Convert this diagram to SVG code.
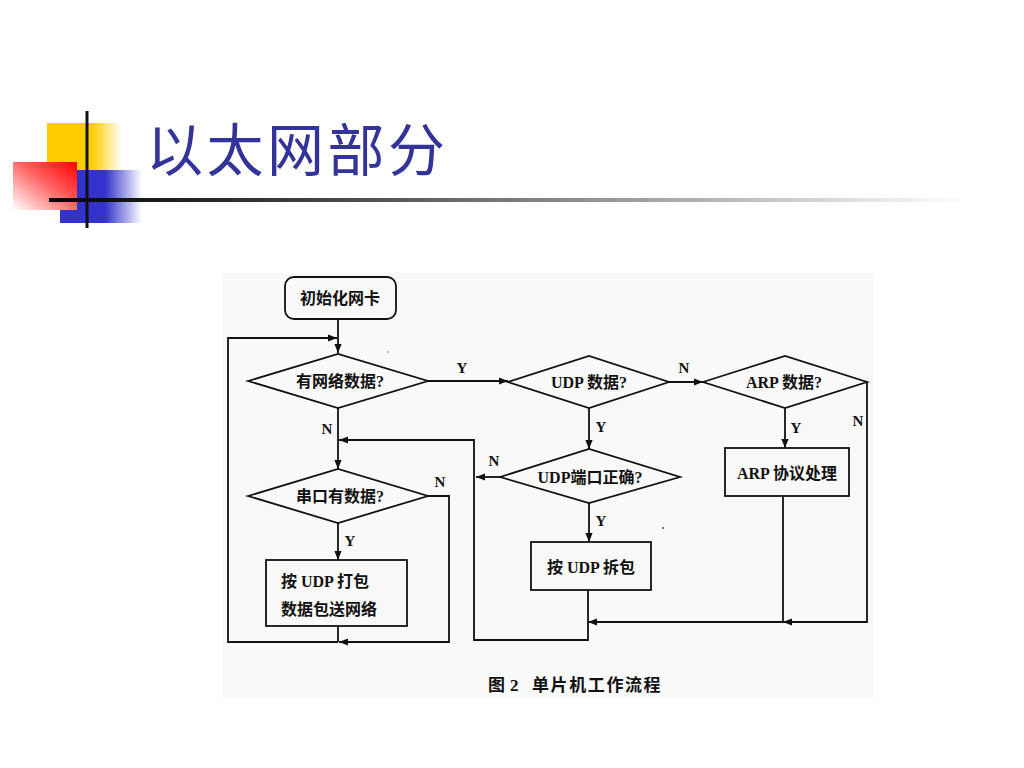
<svg xmlns="http://www.w3.org/2000/svg" width="1024" height="768" viewBox="0 0 1024 768">
<defs>
<linearGradient id="gy" x1="0" y1="0" x2="1" y2="0">
<stop offset="0" stop-color="#ffcc00"/><stop offset="0.6" stop-color="#ffcc00"/><stop offset="1" stop-color="#ffffff"/>
</linearGradient>
<linearGradient id="gb" x1="0" y1="0" x2="1" y2="0">
<stop offset="0" stop-color="#3333cc"/><stop offset="0.55" stop-color="#3333cc"/><stop offset="1" stop-color="#ffffff"/>
</linearGradient>
<linearGradient id="gr" x1="1" y1="0" x2="0" y2="1">
<stop offset="0" stop-color="#ff0000"/><stop offset="0.45" stop-color="#ff6060"/><stop offset="1" stop-color="#ffffff"/>
</linearGradient>
<linearGradient id="gl" x1="0" y1="0" x2="1" y2="0">
<stop offset="0" stop-color="#000000"/><stop offset="0.3" stop-color="#444444"/><stop offset="1" stop-color="#ffffff"/>
</linearGradient>
<marker id="ah" viewBox="0 0 10 10" refX="10" refY="5" markerWidth="9" markerHeight="9" markerUnits="userSpaceOnUse" orient="auto">
<path d="M0,1 L10,5 L0,9 Z" fill="#111"/>
</marker>
<style>
.sh{fill:none;stroke:#111;stroke-width:1.8;stroke-linejoin:miter}
.cn{fill:none;stroke:#111;stroke-width:1.8}
.tx{font-family:"Liberation Serif","Noto Sans CJK SC",serif;font-size:16px;font-weight:bold;fill:#111}
.lb{font-family:"Liberation Serif",serif;font-size:15px;font-weight:bold;fill:#111}
</style>
</defs>
<rect width="1024" height="768" fill="#ffffff"/>
<!-- title decoration -->
<g id="title-decor">
<rect x="47" y="123" width="75" height="48" fill="url(#gy)"/>
<rect x="60" y="170" width="82" height="53" fill="url(#gb)"/>
<rect x="13" y="162" width="64" height="48" fill="url(#gr)"/>
<line x1="87" y1="111" x2="87" y2="228" stroke="#111" stroke-width="3"/>
<rect x="49" y="198" width="915" height="4" fill="url(#gl)"/>
</g>
<text id="title" x="146" y="171" font-family="Noto Sans CJK SC, sans-serif" font-size="57" letter-spacing="3.5" fill="#333399">以太网部分</text>
<!-- figure background -->
<rect x="222" y="273" width="652" height="425" fill="#f9f9f9"/>
<circle cx="388" cy="352" r="0.8" fill="#777"/>
<circle cx="663" cy="528" r="1" fill="#555"/>
<g id="connectors">
<path class="cn" d="M338 319 V353" marker-end="url(#ah)"/>
<path class="cn" d="M428 381 H508" marker-end="url(#ah)"/>
<path class="cn" d="M669 382 H703" marker-end="url(#ah)"/>
<path class="cn" d="M785 408 V448" marker-end="url(#ah)"/>
<path class="cn" d="M589 408 V449" marker-end="url(#ah)"/>
<path class="cn" d="M589 503 V542" marker-end="url(#ah)"/>
<path class="cn" d="M338 408 V469" marker-end="url(#ah)"/>
<path class="cn" d="M338 523 V560" marker-end="url(#ah)"/>
<path class="cn" d="M500 477 H476" marker-end="url(#ah)"/>
<path class="cn" d="M867 382 V622 H783" marker-end="url(#ah)"/>
<path class="cn" d="M783 496 V622 H588" marker-end="url(#ah)"/>
<path class="cn" d="M588 590 V640 H474 V440 H339" marker-end="url(#ah)"/>
<path class="cn" d="M428 496 H449 V642 H339" marker-end="url(#ah)"/>
<path class="cn" d="M338 626 V642"/>
<path class="cn" d="M338 642 H228 V338 H337" marker-end="url(#ah)"/>
</g>
<g id="start">
<rect class="sh" x="285" y="277" width="111" height="42" rx="9"/>
<text class="tx" x="340" y="304" text-anchor="middle">初始化网卡</text>
</g>
<g id="net-data">
<path class="sh" d="M248 381 L338 354 L428 381 L338 408 Z"/>
<text class="tx" x="340" y="387" text-anchor="middle">有网络数据?</text>
</g>
<g id="udp-data">
<path class="sh" d="M508 382 L589 356 L669 382 L589 408 Z"/>
<text class="tx" x="589" y="388" text-anchor="middle">UDP 数据?</text>
</g>
<g id="arp-data">
<path class="sh" d="M703 382 L785 356 L867 382 L785 408 Z"/>
<text class="tx" x="784" y="388" text-anchor="middle">ARP 数据?</text>
</g>
<g id="arp-proc">
<rect class="sh" x="725" y="448" width="124" height="48"/>
<text class="tx" x="787" y="479" text-anchor="middle">ARP 协议处理</text>
</g>
<g id="udp-port">
<path class="sh" d="M500 477 L589 449 L680 477 L589 503 Z"/>
<text class="tx" x="590" y="483" text-anchor="middle">UDP端口正确?</text>
</g>
<g id="udp-unpack">
<rect class="sh" x="531" y="542" width="120" height="48"/>
<text class="tx" x="591" y="573" text-anchor="middle">按 UDP 拆包</text>
</g>
<g id="serial-data">
<path class="sh" d="M248 496 L338 469 L428 496 L338 523 Z"/>
<text class="tx" x="340" y="502" text-anchor="middle">串口有数据?</text>
</g>
<g id="udp-pack">
<rect class="sh" x="266" y="560" width="141" height="66"/>
<text class="tx" x="281" y="587">按 UDP 打包</text>
<text class="tx" x="281" y="615">数据包送网络</text>
</g>
<g id="labels">
<text class="lb" x="462" y="373" text-anchor="middle">Y</text>
<text class="lb" x="684" y="373" text-anchor="middle">N</text>
<text class="lb" x="327" y="434" text-anchor="middle">N</text>
<text class="lb" x="601" y="432" text-anchor="middle">Y</text>
<text class="lb" x="796" y="433" text-anchor="middle">Y</text>
<text class="lb" x="858" y="426" text-anchor="middle">N</text>
<text class="lb" x="494" y="466" text-anchor="middle">N</text>
<text class="lb" x="440" y="487" text-anchor="middle">N</text>
<text class="lb" x="601" y="526" text-anchor="middle">Y</text>
<text class="lb" x="350" y="546" text-anchor="middle">Y</text>
</g>
<text id="caption" y="691" font-family="Liberation Serif, Noto Sans CJK SC, serif" font-size="17" font-weight="bold" fill="#111"><tspan x="488">图</tspan><tspan x="510">2</tspan><tspan x="532" letter-spacing="1.6">单片机工作流程</tspan></text>
</svg>
